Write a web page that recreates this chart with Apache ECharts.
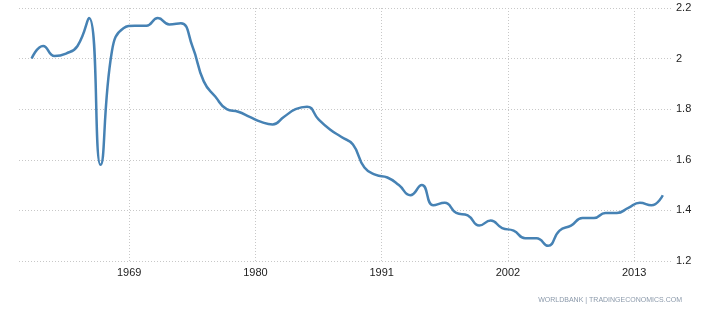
<!DOCTYPE html>
<html><head><meta charset="utf-8">
<script src="https://cdn.jsdelivr.net/npm/echarts@6/dist/echarts.min.js"></script>
<style>html,body{margin:0;padding:0;background:#fff}#c{width:707px;height:309px}</style>
</head><body><div id="c"></div>
<script>
const years = [1960,1961,1962,1963,1964,1965,1966,1967,1968,1969,
  1970,1971,1972,1973,1974,1975,1976,1977,1978,1979,
  1980,1981,1982,1983,1984,1985,1986,1987,1988,1989,
  1990,1991,1992,1993,1994,1995,1996,1997,1998,1999,
  2000,2001,2002,2003,2004,2005,2006,2007,2008,2009,
  2010,2011,2012,2013,2014,2015];
const fertility = [2.00,2.05,2.01,2.02,2.05,2.16,1.58,2.03,2.12,2.13,
  2.13,2.16,2.135,2.14,2.05,1.91,1.85,1.80,1.79,1.77,
  1.75,1.74,1.77,1.80,1.81,1.76,1.72,1.69,1.66,1.57,
  1.54,1.53,1.50,1.46,1.50,1.42,1.43,1.39,1.38,1.34,
  1.36,1.33,1.32,1.29,1.29,1.26,1.32,1.34,1.37,1.37,
  1.39,1.39,1.41,1.43,1.42,1.46];
const xTickYears = [1969,1980,1991,2002,2013];
const yMin = 1.2, yMax = 2.2, yStep = 0.2;
const sourceText = 'WORLDBANK | TRADINGECONOMICS.COM';

// each annual value is plotted at the middle of its year
const seriesData = years.map((y, i) => [y + 0.5, fertility[i]]);

const dotted = {color: '#c8c8c8', width: 1, type: [1, 2]};
const chart = echarts.init(document.getElementById('c'), null, {renderer: 'canvas'});
chart.setOption({
  animation: false,
  grid: {left: 19, right: 35, top: 8, bottom: 48, containLabel: false},
  xAxis: {
    type: 'value', min: 1959.4, max: 2016.3,
    axisLine: {show: false},
    axisTick: {show: false, customValues: xTickYears},
    axisLabel: {customValues: xTickYears, color: '#222', fontSize: 11,
      fontFamily: 'Liberation Sans, Arial, sans-serif', margin: 6,
      formatter: v => String(v)},
    splitLine: {show: true, lineStyle: dotted}
  },
  yAxis: {
    type: 'value', position: 'right', min: yMin, max: yMax, interval: yStep,
    axisLine: {show: false}, axisTick: {show: false},
    axisLabel: {color: '#222', fontSize: 11, margin: 4,
      fontFamily: 'Liberation Sans, Arial, sans-serif',
      formatter: v => String(Math.round(v * 10) / 10)},
    splitLine: {show: true, lineStyle: dotted}
  },
  graphic: [{
    type: 'text', right: 25, top: 297,
    style: {text: sourceText, fill: '#8c9aab', fontSize: 7,
      fontFamily: 'Liberation Sans, Arial, sans-serif'}
  }],
  series: [{
    type: 'line', data: seriesData, smooth: 0.5, showSymbol: false,
    lineStyle: {color: '#4682b4', width: 2.5},
    itemStyle: {color: '#4682b4'}
  }]
});
</script></body></html>
